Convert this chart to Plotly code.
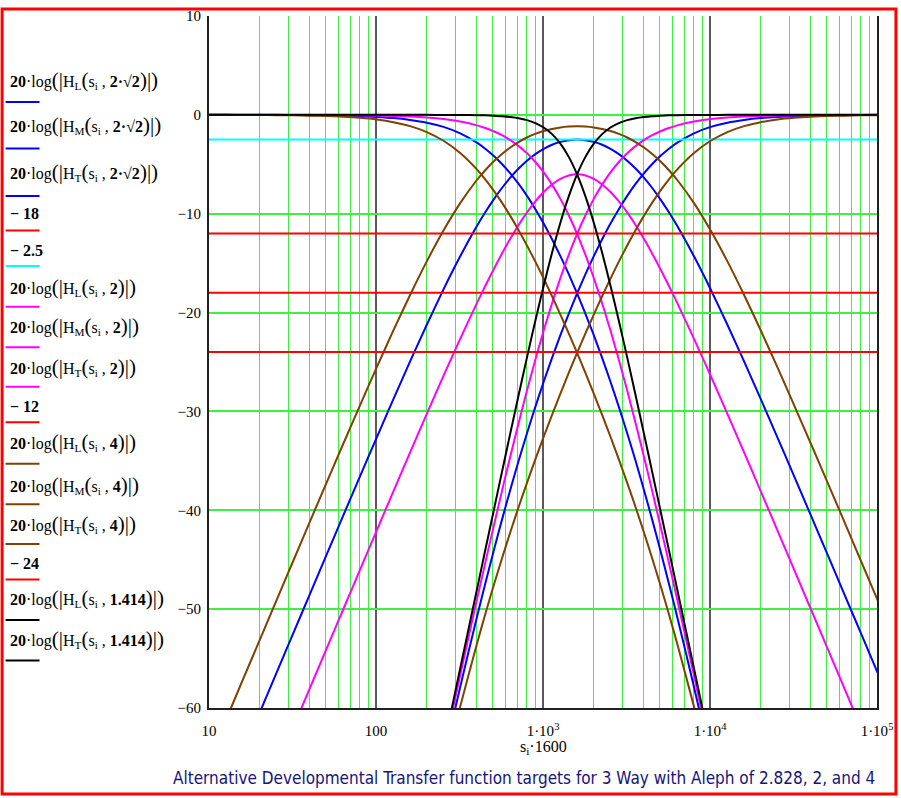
import plotly.graph_objects as go

# x values: s_i * 1600 (Hz)
freq_hz = [8.02, 10.1, 12.71, 16.0, 20.14, 25.36, 31.93, 40.19, 50.6, 63.7,
           80.19, 100.95, 127.09, 160.0, 201.43, 253.59, 319.25, 401.9, 450.94, 505.96,
           567.7, 636.97, 714.69, 801.9, 899.75, 1009.5, 1132.7, 1270.9, 1426.0, 1600.0,
           1795.2, 2014.3, 2260.1, 2535.8, 2845.2, 3192.4, 3582.0, 4019.0, 4509.4, 5059.6,
           5677.0, 6369.7, 8019.0, 10095.0, 12709.0, 16000.0, 20143.0, 25359.0, 31924.0, 40190.0,
           50596.0, 63697.0, 80190.0, 100953.0]

N = None  # off the bottom of the chart

# 20*log(|H(s_i, aleph)|) in dB
lo_2r2 = [0.0, 0.0, 0.0, -0.01, -0.01, -0.01, -0.02, -0.03, -0.05, -0.08,
          -0.13, -0.21, -0.32, -0.51, -0.79, -1.22, -1.87, -2.81, -3.42, -4.14,
          -4.97, -5.92, -6.99, -8.20, -9.54, -11.00, -12.59, -14.29, -16.12, -18.06,
          -20.12, -22.29, -24.59, -27.00, -29.54, -32.20, -34.99, -37.92, -40.97, -44.14,
          -47.42, -50.81, -57.87, -65.22, N, N, N, N, N, N,
          N, N, N, N]
mid_2r2 = [N, N, N, -64.44, -60.45, -56.45, -52.46, -48.47, -44.49, -40.52,
           -36.57, -32.64, -28.76, -24.94, -21.23, -17.66, -14.31, -11.25, -9.86, -8.57,
           -7.40, -6.35, -5.43, -4.64, -3.97, -3.44, -3.02, -2.73, -2.56, -2.50,
           -2.56, -2.73, -3.02, -3.44, -3.97, -4.64, -5.43, -6.35, -7.40, -8.57,
           -9.86, -11.25, -14.31, -17.66, -21.23, -24.94, -28.76, -32.64, -36.57, -40.52,
           -44.49, -48.47, -52.46, -56.45]
hi_2r2 = [N, N, N, N, N, N, N, N, N, N,
          N, N, N, N, N, -65.22, -57.87, -50.81, -47.42, -44.14,
          -40.97, -37.92, -34.99, -32.20, -29.54, -27.00, -24.59, -22.29, -20.12, -18.06,
          -16.12, -14.29, -12.59, -11.00, -9.54, -8.20, -6.99, -5.92, -4.97, -4.14,
          -3.42, -2.81, -1.87, -1.22, -0.79, -0.51, -0.32, -0.21, -0.13, -0.08,
          -0.05, -0.03, -0.02, -0.01]

lo_2 = [0.0, 0.0, 0.0, 0.0, 0.0, 0.0, -0.01, -0.01, -0.02, -0.03,
        -0.04, -0.07, -0.11, -0.17, -0.27, -0.43, -0.68, -1.06, -1.33, -1.66,
        -2.06, -2.56, -3.16, -3.89, -4.77, -5.82, -7.06, -8.50, -10.16, -12.04,
        -14.16, -16.50, -19.06, -21.82, -24.77, -27.89, -31.16, -34.56, -38.06, -41.66,
        -45.33, -49.06, -56.68, -64.43, N, N, N, N, N, N,
        N, N, N, N]
mid_2 = [N, N, N, N, N, -65.98, -61.99, -57.99, -54.00, -50.01,
         -46.02, -42.05, -38.09, -34.15, -30.25, -26.41, -22.66, -19.04, -17.31, -15.64,
         -14.04, -12.54, -11.14, -9.87, -8.75, -7.80, -7.04, -6.48, -6.13, -6.02,
         -6.13, -6.48, -7.04, -7.80, -8.75, -9.87, -11.14, -12.54, -14.04, -15.64,
         -17.31, -19.04, -22.66, -26.41, -30.25, -34.15, -38.09, -42.05, -46.02, -50.01,
         -54.00, -57.99, -61.99, -65.98]
hi_2 = [N, N, N, N, N, N, N, N, N, N,
        N, N, N, N, N, -64.43, -56.68, -49.06, -45.33, -41.66,
        -38.06, -34.56, -31.16, -27.89, -24.77, -21.82, -19.06, -16.50, -14.16, -12.04,
        -10.16, -8.50, -7.06, -5.82, -4.77, -3.89, -3.16, -2.56, -2.06, -1.66,
        -1.33, -1.06, -0.68, -0.43, -0.27, -0.17, -0.11, -0.07, -0.04, -0.03,
        -0.02, -0.01, -0.01, 0.0]

lo_4 = [0.0, -0.01, -0.01, -0.01, -0.02, -0.03, -0.05, -0.08, -0.12, -0.19,
        -0.30, -0.47, -0.74, -1.14, -1.74, -2.62, -3.86, -5.52, -6.52, -7.64,
        -8.88, -10.22, -11.67, -13.22, -14.85, -16.56, -18.35, -20.20, -22.11, -24.08,
        -26.11, -28.20, -30.35, -32.56, -34.85, -37.22, -39.67, -42.22, -44.88, -47.64,
        -50.52, -53.52, -59.86, -66.62, N, N, N, N, N, N,
        N, N, N, N]
mid_4 = [-69.08, -65.08, -61.09, -57.09, -53.10, -49.11, -45.13, -41.15, -37.20, -33.27,
         -29.38, -25.55, -21.81, -18.22, -14.82, -11.70, -8.93, -6.59, -5.60, -4.72,
         -3.95, -3.30, -2.75, -2.29, -1.93, -1.64, -1.43, -1.28, -1.19, -1.16,
         -1.19, -1.28, -1.43, -1.64, -1.93, -2.29, -2.75, -3.30, -3.95, -4.72,
         -5.60, -6.59, -8.93, -11.70, -14.82, -18.22, -21.81, -25.55, -29.38, -33.27,
         -37.20, -41.15, -45.13, -49.11]
hi_4 = [N, N, N, N, N, N, N, N, N, N,
        N, N, N, N, N, -66.62, -59.86, -53.52, -50.52, -47.64,
        -44.88, -42.22, -39.67, -37.22, -34.85, -32.56, -30.35, -28.20, -26.11, -24.08,
        -22.11, -20.20, -18.35, -16.56, -14.85, -13.22, -11.67, -10.22, -8.88, -7.64,
        -6.52, -5.52, -3.86, -2.62, -1.74, -1.14, -0.74, -0.47, -0.30, -0.19,
        -0.12, -0.08, -0.05, -0.03]

lo_1414 = [0.0, 0.0, 0.0, 0.0, 0.0, 0.0, 0.0, 0.0, 0.0, 0.0,
           0.0, 0.0, 0.0, 0.0, 0.0, -0.01, -0.01, -0.03, -0.05, -0.09,
           -0.14, -0.22, -0.34, -0.53, -0.83, -1.28, -1.95, -2.91, -4.25, -6.02,
           -8.25, -10.91, -13.95, -17.28, -20.83, -24.53, -28.34, -32.22, -36.14, -40.09,
           -44.05, -48.03, -56.01, -64.01, N, N, N, N, N, N,
           N, N, N, N]
hi_1414 = [N, N, N, N, N, N, N, N, N, N,
           N, N, N, N, N, -64.01, -56.01, -48.03, -44.05, -40.09,
           -36.14, -32.22, -28.34, -24.53, -20.83, -17.28, -13.95, -10.91, -8.25, -6.02,
           -4.25, -2.91, -1.95, -1.28, -0.83, -0.53, -0.34, -0.22, -0.14, -0.09,
           -0.05, -0.03, -0.01, -0.01, 0.0, 0.0, 0.0, 0.0, 0.0, 0.0,
           0.0, 0.0, 0.0, 0.0]

# constant reference levels (dB)
x_span = [10, 100000]
level_18 = -18
level_25 = -2.5
level_12 = -12
level_24 = -24

x_tickvals = [10, 100, 1000, 10000, 100000]
x_ticktext = ["10", "100", "1·10<sup>3</sup>", "1·10<sup>4</sup>", "1·10<sup>5</sup>"]

BLUE, RED, CYAN, MAG, BROWN, BLACK = "#0000ff", "#ff0000", "#00ffff", "#ff00ff", "#804000", "#000000"
SERIF = "Liberation Serif"

series = [
    (lo_2r2, BLUE), (mid_2r2, BLUE), (hi_2r2, BLUE),
    ([level_18, level_18], RED), ([level_25, level_25], CYAN),
    (lo_2, MAG), (mid_2, MAG), (hi_2, MAG),
    ([level_12, level_12], RED),
    (lo_4, BROWN), (mid_4, BROWN), (hi_4, BROWN),
    ([level_24, level_24], RED),
    (lo_1414, BLACK), (hi_1414, BLACK),
]


def big(ch):
    return "<span style='font-size:21px'>" + ch + "</span>"


def hlab(sub, arg):
    return ("<b>20</b>·log" + big("(") + big("|") + "H<sub>" + sub + "</sub>" + big("(")
            + "s<sub>i</sub> , <b>" + arg + "</b>" + big(")") + big("|") + big(")"))


legend_labels = [
    hlab("L", "2·√2"), hlab("M", "2·√2"), hlab("T", "2·√2"),
    "<b>− 18</b>", "<b>− 2.5</b>",
    hlab("L", "2"), hlab("M", "2"), hlab("T", "2"),
    "<b>− 12</b>",
    hlab("L", "4"), hlab("M", "4"), hlab("T", "4"),
    "<b>− 24</b>",
    hlab("L", "1.414"), hlab("T", "1.414"),
]

fig = go.Figure()
for ys, col in series:
    xs = freq_hz if len(ys) > 2 else x_span
    fig.add_trace(go.Scatter(x=xs, y=ys, mode="lines", line=dict(color=col, width=2, shape="spline", smoothing=0.6),
                             showlegend=False, hoverinfo="skip"))

# page geometry (pixels)
W, H = 901, 798
L, R, T, B = 209, 22, 8, 90
PW, PH = W - L - R, H - T - B


def px(x):
    return (x - L) / PW


def py(y):
    return (H - B - y) / PH


legend_text_y = [73, 118, 166, 208, 245, 282, 322, 363, 403, 439, 482, 522, 562, 597, 638]
legend_line_y = [95, 142, 190, 225, 261, 302, 343, 383, 419, 461, 502, 542, 578, 619, 660]

annotations = []
shapes = []
for lab, (_, col), ty, ly in zip(legend_labels, series, legend_text_y, legend_line_y):
    annotations.append(dict(text=lab, x=px(7), y=py(ty), xref="paper", yref="paper", xanchor="left",
                            yanchor="middle", showarrow=False, font=dict(family=SERIF, size=16, color="black")))
    shapes.append(dict(type="line", xref="paper", yref="paper", x0=px(5), x1=px(39), y0=py(ly), y1=py(ly),
                       line=dict(color=col, width=2)))

annotations.append(dict(text="s<sub>i</sub>·1600", x=px(544), y=py(748), xref="paper", yref="paper",
                        xanchor="center", yanchor="middle", showarrow=False,
                        font=dict(family=SERIF, size=16, color="black")))
annotations.append(dict(text="Alternative Developmental Transfer function targets for 3 Way with Aleph of 2.828, 2, and 4",
                        x=px(525), y=py(779), xref="paper", yref="paper", xanchor="center", yanchor="middle",
                        showarrow=False, font=dict(family="DejaVu Sans Condensed, DejaVu Sans", size=17,
                                                   color="#14147a")))

# red frame round the whole region
shapes.append(dict(type="rect", xref="paper", yref="paper", x0=px(1.5), x1=px(W - 3), y0=py(1), y1=py(H - 3),
                   line=dict(color="red", width=3), layer="above"))

GREEN = "#40f040"
fig.update_layout(
    width=W, height=H, margin=dict(l=L, r=R, t=T, b=B),
    plot_bgcolor="white", paper_bgcolor="white",
    annotations=annotations, shapes=shapes,
    xaxis=dict(type="log", range=[1, 5], tickvals=x_tickvals, ticktext=x_ticktext,
               showgrid=True, gridcolor="#5a5a5a", gridwidth=1.5,
               minor=dict(tickvals=[m * 10 ** k for k in range(1, 5) for m in range(2, 10)],
                          showgrid=True, gridcolor=GREEN, gridwidth=1.2, ticks=""),
               showline=True, linecolor="#202020", linewidth=2, zeroline=False,
               ticks="outside", ticklen=8, tickcolor="rgba(0,0,0,0)",
               tickfont=dict(family=SERIF, size=15, color="black")),
    yaxis=dict(range=[-60, 10], dtick=10, tick0=0, showgrid=True, gridcolor=GREEN, gridwidth=1.5,
               showline=True, linecolor="#202020", linewidth=2, mirror=True, zeroline=False,
               ticks="outside", ticklen=3, tickcolor="rgba(0,0,0,0)",
               tickfont=dict(family=SERIF, size=15, color="black")),
)

# the page has a default body margin; drop it so the figure sits at the window's corner
fig.write_html("out.html", config={"displayModeBar": False},
               post_script="document.body.style.margin='0';")
